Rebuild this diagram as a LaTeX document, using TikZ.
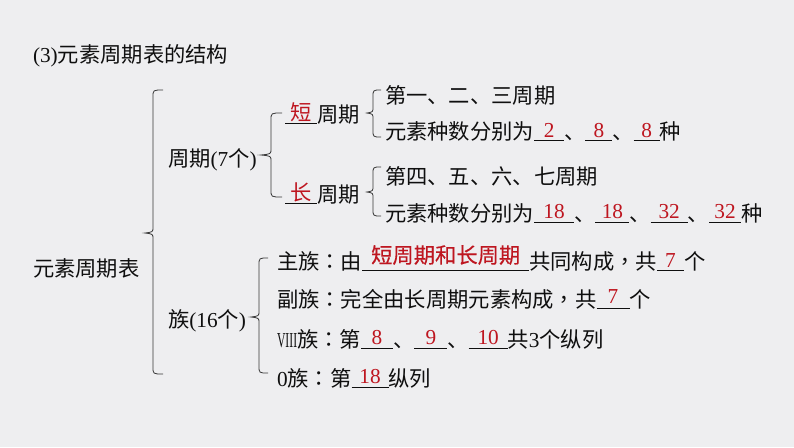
\documentclass[tikz,border=0pt]{standalone}
\usepackage{fontspec}
\usepackage{graphicx}
\setmainfont{Liberation Serif}
\newfontfamily\cjk{Noto Sans CJK SC}
\newfontfamily\cjkt{Noto Sans CJK TC}
\newfontfamily\cjkb[FakeBold=0.4]{Noto Sans CJK SC}
\definecolor{bgc}{RGB}{238,238,240}
\definecolor{inkc}{RGB}{15,15,15}
\definecolor{redc}{RGB}{190,22,32}
\definecolor{bracec}{RGB}{55,55,55}
\newcommand\zhnum[1]{{\rmfamily #1}}
\newcommand\blank[3]{\rlap{\color{inkc}\rule[-1.5pt]{#1}{0.9pt}}\makebox[#1]{\raisebox{#3}{\color{redc}#2}}}
\tikzset{
  txt/.style={anchor=base west,inner sep=0pt,outer sep=0pt,text=inkc,font=\cjk\fontsize{21.3}{25}\selectfont},
  bracestyle/.style={draw=bracec,line width=0.8pt}
}
\newcommand\mybrace[6]{% x, top, mid, bot, tipx, hookx
  \draw[bracestyle] (#6,#2) .. controls (#1,#2) and (#1,#2) .. (#1,#2+7)
    -- (#1,#3-6) .. controls (#1,#3-1) .. (#5,#3)
    .. controls (#1,#3+1) .. (#1,#3+6)
    -- (#1,#4-7) .. controls (#1,#4) and (#1,#4) .. (#6,#4);}
\begin{document}
\begin{tikzpicture}[x=1pt,y=-1pt]
\fill[bgc] (0,0) rectangle (794,447);
\useasboundingbox (0,0) rectangle (794,447);

\node[txt] (title) at (33,62) {\rmfamily(3)\cjk 元素周期表的结构};
\node[txt] (root) at (33,276) {元素周期表};
\node[txt] (period) at (168,166) {周期\zhnum{(7}个\zhnum{)}};
\node[txt] (short) at (285,122) {\blank{32pt}{短}{1.5pt}周期};
\node[txt] (long) at (285,202) {\blank{32pt}{长}{1.5pt}周期};
\node[txt] (s1) at (385,103) {第一、二、三周期};
\node[txt] (s2) at (385,139) {元素种数分别为\blank{30pt}{\zhnum{2}}{2pt}、\blank{27pt}{\zhnum{8}}{2pt}、\blank{26pt}{\zhnum{8}}{2pt}种};
\node[txt] (l1) at (385,184) {第四、五、六、七周期};
\node[txt] (l2) at (385,221) {元素种数分别为\blank{40pt}{\zhnum{18}}{3pt}、\blank{34pt}{\zhnum{18}}{3pt}、\blank{37pt}{\zhnum{32}}{3pt}、\blank{32pt}{\zhnum{32}}{3pt}种};
\node[txt] (group) at (168,327) {族\zhnum{(16}个\zhnum{)}};
\node[txt] (g1) at (277,269) {主族{\cjkt ：}由\blank{167pt}{\cjkb 短周期和长周期}{6pt}共同构成{\cjkt ，}共\blank{27pt}{\zhnum{7}}{2pt}个};
\node[txt] (g2) at (277,307) {副族{\cjkt ：}完全由长周期元素构成{\cjkt ，}共\blank{33pt}{\zhnum{7}}{4pt}个};
\node[txt] (g3) at (277,347) {\zhnum{\scalebox{0.55}[1]{VIII}}族{\cjkt ：}第\blank{32pt}{\zhnum{8}}{3pt}、\blank{33pt}{\zhnum{9}}{3pt}、\blank{39pt}{\zhnum{10}}{3pt}共\zhnum{3}个纵列};
\node[txt] (g4) at (277,386) {\zhnum{0}族{\cjkt ：}第\blank{37pt}{\zhnum{18}}{3pt}纵列};

\mybrace{153}{90}{233}{374}{145}{163}
\mybrace{271}{113}{155}{197}{261}{282}
\mybrace{373}{90}{113}{137}{367}{381}
\mybrace{373}{167}{192}{216}{367}{381}
\mybrace{259}{258}{317}{373}{251}{268}
\end{tikzpicture}
\end{document}
